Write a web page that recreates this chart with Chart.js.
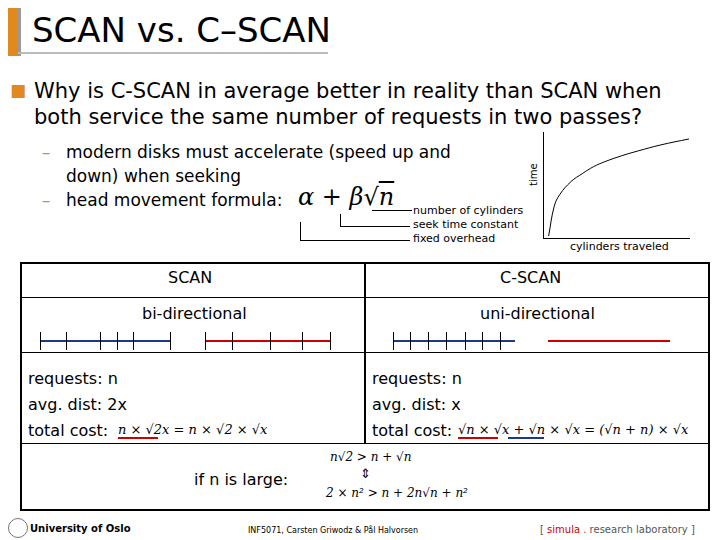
<!DOCTYPE html>
<html><head><meta charset="utf-8">
<script src="https://cdn.jsdelivr.net/npm/chart.js@4"></script>
<style>
body{margin:0;width:720px;height:540px;background:#fff;font-family:"DejaVu Sans",sans-serif;position:relative;overflow:hidden}
.a{position:absolute;white-space:nowrap}
.ln{position:absolute;background:#000}
.f{font-family:"DejaVu Serif",serif;font-style:italic}
</style></head><body>
<div class="a" style="left:8px;top:8px;width:10px;height:48px;background:#e08a1e"></div>
<div class="a" style="left:18px;top:8px;width:3px;height:48px;background:#999"></div>
<div class="a" style="left:32px;top:10px;font-size:34px">SCAN vs. C–SCAN</div>
<div class="ln" style="left:18px;top:52px;width:310px;height:2px;background:#bbb"></div>
<div class="a" style="left:10px;top:80px;font-size:17px;color:#e08a1e">■</div>
<div class="a" style="left:34px;top:78px;font-size:21px;line-height:26px">Why is C-SCAN in average better in reality than SCAN when<br>both service the same number of requests in two passes?</div>
<div class="a" style="left:42px;top:140px;font-size:17px;line-height:24px;color:#e08a1e">–<br><br>–</div>
<div class="a" style="left:66px;top:140px;font-size:17px;line-height:24px">modern disks must accelerate (speed up and<br>down) when seeking<br>head movement formula:</div>
<div class="a f" style="left:298px;top:183px;font-size:24px">α + β√<span style="text-decoration:overline">n</span></div>
<div class="ln" style="left:340px;top:226px;width:70px;height:1px"></div>
<div class="ln" style="left:340px;top:214px;width:1px;height:12px"></div>
<div class="ln" style="left:372px;top:210px;width:40px;height:1px"></div>
<div class="ln" style="left:300px;top:240px;width:110px;height:1px"></div>
<div class="ln" style="left:300px;top:222px;width:1px;height:18px"></div>
<div class="a" style="left:413px;top:204px;font-size:11px;line-height:14px">number of cylinders<br>seek time constant<br>fixed overhead</div>
<div class="a" style="left:570px;top:240px;font-size:11px">cylinders traveled</div>
<div class="a" style="left:528px;top:186px;font-size:10px;transform:rotate(-90deg);transform-origin:left top">time</div>
<div class="a" style="left:535px;top:128px;width:160px;height:118px"><canvas id="c"></canvas></div>

<div class="ln" style="left:20px;top:262px;width:690px;height:2px"></div>
<div class="ln" style="left:20px;top:262px;width:2px;height:248px"></div>
<div class="ln" style="left:708px;top:262px;width:2px;height:248px"></div>
<div class="ln" style="left:20px;top:509px;width:690px;height:2px"></div>
<div class="ln" style="left:364px;top:262px;width:2px;height:182px"></div>
<div class="ln" style="left:20px;top:297px;width:690px;height:1px"></div>
<div class="ln" style="left:20px;top:352px;width:690px;height:1px"></div>
<div class="ln" style="left:20px;top:443px;width:690px;height:1px"></div>
<div class="a" style="left:168px;top:268px;font-size:16px">SCAN</div>
<div class="a" style="left:500px;top:268px;font-size:16px">C-SCAN</div>
<div class="a" style="left:142px;top:304px;font-size:16px">bi-directional</div>
<div class="a" style="left:480px;top:304px;font-size:16px">uni-directional</div>
<div class="ln" style="left:40px;top:340px;width:130px;height:2px;background:#1a3a8a"></div>
<div class="ln" style="left:205px;top:340px;width:125px;height:2px;background:#c00"></div>
<div class="ln" style="left:393px;top:340px;width:122px;height:2px;background:#1a3a8a"></div>
<div class="ln" style="left:548px;top:340px;width:122px;height:2px;background:#c00"></div>
<div id="ticks"></div>
<div class="a" style="left:28px;top:366px;font-size:16px;line-height:26px">requests: n<br>avg. dist: 2x<br>total cost:</div>
<div class="a" style="left:372px;top:366px;font-size:16px;line-height:26px">requests: n<br>avg. dist: x<br>total cost:</div>
<div class="a f" style="left:118px;top:422px;font-size:13px">n × √2x = n × √2 × √x</div>
<div class="a f" style="left:458px;top:422px;font-size:13px">√n × √x + √n × √x = (√n + n) × √x</div>
<div class="ln" style="left:118px;top:437px;width:40px;height:2px;background:#c00"></div>
<div class="ln" style="left:458px;top:437px;width:40px;height:2px;background:#c00"></div>
<div class="ln" style="left:508px;top:437px;width:36px;height:2px;background:#1a3a8a"></div>
<div class="a" style="left:194px;top:470px;font-size:16px">if n is large:</div>
<div class="a f" style="left:330px;top:450px;font-size:12px">n√2 &gt; n + √n</div>
<div class="a" style="left:360px;top:466px;font-size:13px">⇕</div>
<div class="a f" style="left:326px;top:486px;font-size:12px">2 × n² &gt; n + 2n√n + n²</div>

<div class="a" style="left:8px;top:518px;width:18px;height:18px;border-radius:50%;border:1px solid #777"></div>
<div class="a" style="left:30px;top:523px;font-size:10px;font-weight:bold">University of Oslo</div>
<div class="a" style="left:248px;top:526px;font-size:8px">INF5071, Carsten Griwodz &amp; Pål Halvorsen</div>
<div class="a" style="left:540px;top:524px;font-size:10px;color:#555">[ <span style="color:#c00">simula</span> . research laboratory ]</div>
<script>
const tickSets=[[40,66,100,117,133,170],[205,232,270,302,330],[393,410,428,446,465,482,500],[]];
let h='';tickSets.flat().forEach(x=>{h+=`<div class="ln" style="left:${x}px;top:332px;width:1px;height:18px"></div>`});
document.getElementById('ticks').innerHTML=h;
const cyl=[0,1,2,4,6,8,10,13,16,20,25];
const tm=[0,30,42,55,63,70,75,81,86,92,98];
new Chart(document.getElementById('c'),{type:'line',
data:{datasets:[{data:cyl.map((x,i)=>({x,y:tm[i]})),borderColor:'#000',borderWidth:1,pointRadius:0,tension:0.4,fill:false}]},
options:{responsive:true,maintainAspectRatio:false,animation:false,plugins:{legend:{display:false},tooltip:{enabled:false}},
layout:{padding:{right:6,top:4}},
scales:{x:{type:'linear',min:-1,max:25,grid:{display:false},border:{color:'#000'},ticks:{display:false}},
y:{min:-2,max:105,grid:{display:false},border:{color:'#000'},ticks:{display:false}}}}});
</script>
</body></html>
